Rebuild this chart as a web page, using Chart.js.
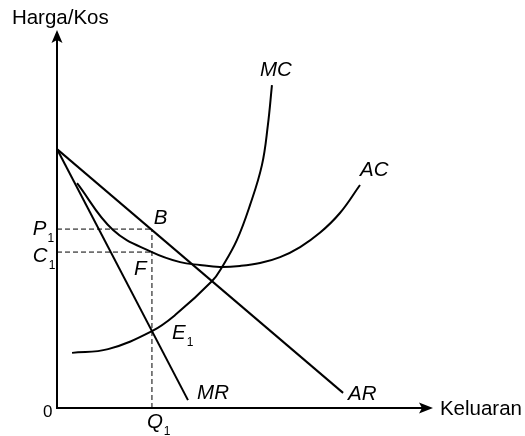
<!DOCTYPE html>
<html>
<head>
<meta charset="utf-8">
<script src="https://cdn.jsdelivr.net/npm/chart.js@4.4.1/dist/chart.umd.min.js"></script>
<style>
  body { margin: 0; background: #fff; }
  #wrap { width: 525px; height: 436px; }
</style>
</head>
<body>
<div id="wrap"><canvas id="monopoli" width="525" height="436"></canvas></div>
<script>
// lengkung kos dan hasil (unit keluaran / harga dibaca dari rajah)
const mcQ = [0.48, 1.63, 3.03, 3.77, 4.95, 5.27, 5.74, 6.16, 6.54, 6.73, 6.86];
const mcCost = [1.75, 1.87, 2.44, 2.95, 4.03, 4.48, 5.33, 6.44, 7.71, 8.98, 10.25];

const acQ = [0.64, 1.79, 3.03, 3.93, 4.56, 5.20, 5.84, 6.48, 7.12, 7.76, 8.39, 9.03, 9.67];
const acCost = [7.14, 5.65, 4.95, 4.63, 4.54, 4.48, 4.51, 4.60, 4.79, 5.11, 5.56, 6.19, 7.08];

const arQ = [0, 9.13];
const arPrice = [8.22, 0.48];

const mrQ = [0, 4.18];
const mrRevenue = [8.22, 0.25];

// keseimbangan
const q1 = 3.03;
const p1 = 5.68;
const c1 = 4.95;

const axisMax = 12;

function pts(xs, ys) {
    return xs.map((x, i) => ({ x: x, y: ys[i] }));
}

// teks pada rajah (kedudukan dalam unit paksi)
const teks = [
    { t: 'Harga/Kos', x: -1.44, y: 12.19, italic: false, size: 20.5 },
    { t: 'Keluaran', x: 12.22, y: -0.22, italic: false, size: 20.5 },
    { t: '0', x: -0.45, y: -0.29, italic: false, size: 17 },
    { t: 'MC', x: 6.48, y: 10.54, italic: true, size: 20.5 },
    { t: 'AC', x: 9.67, y: 7.37, italic: true, size: 20.5 },
    { t: 'B', x: 3.09, y: 5.84, italic: true, size: 20.5 },
    { t: 'F', x: 2.46, y: 4.22, italic: true, size: 20.5 },
    { t: 'E', sub: '1', x: 3.67, y: 2.19, italic: true, size: 20.5 },
    { t: 'MR', x: 4.47, y: 0.29, italic: true, size: 20.5 },
    { t: 'AR', x: 9.29, y: 0.25, italic: true, size: 20.5 },
    { t: 'P', sub: '1', x: -0.77, y: 5.49, italic: true, size: 20.5 },
    { t: 'C', sub: '1', x: -0.77, y: 4.62, italic: true, size: 20.5 },
    { t: 'Q', sub: '1', x: 2.87, y: -0.63, italic: true, size: 20.5 }
];

const garis = {
    borderColor: '#000',
    borderWidth: 2,
    pointRadius: 0,
    showLine: true,
    fill: false
};

const putus = {
    borderColor: '#000',
    borderWidth: 1,
    borderDash: [5, 3],
    pointRadius: 0,
    showLine: true,
    fill: false
};

// paksi dengan anak panah + label
const paksiPlugin = {
    id: 'paksi',
    afterDatasetsDraw(chart) {
        const ctx = chart.ctx;
        const sx = chart.scales.x, sy = chart.scales.y;
        const x0 = sx.getPixelForValue(0), y0 = sy.getPixelForValue(0);
        const xEnd = sx.getPixelForValue(axisMax), yEnd = sy.getPixelForValue(axisMax);
        ctx.save();
        ctx.strokeStyle = '#000';
        ctx.fillStyle = '#000';
        ctx.lineWidth = 2;
        ctx.beginPath();
        ctx.moveTo(x0, y0);
        ctx.lineTo(x0, yEnd + 6);
        ctx.moveTo(x0 - 1, y0);
        ctx.lineTo(xEnd - 6, y0);
        ctx.stroke();
        // anak panah atas
        ctx.beginPath();
        ctx.moveTo(x0, yEnd);
        ctx.lineTo(x0 + 5.5, yEnd + 13);
        ctx.lineTo(x0, yEnd + 10);
        ctx.lineTo(x0 - 5.5, yEnd + 13);
        ctx.closePath();
        ctx.fill();
        // anak panah kanan
        ctx.beginPath();
        ctx.moveTo(xEnd, y0);
        ctx.lineTo(xEnd - 14, y0 - 5.5);
        ctx.lineTo(xEnd - 11, y0);
        ctx.lineTo(xEnd - 14, y0 + 5.5);
        ctx.closePath();
        ctx.fill();

        ctx.textBaseline = 'alphabetic';
        ctx.textAlign = 'left';
        teks.forEach(l => {
            const px = sx.getPixelForValue(l.x), py = sy.getPixelForValue(l.y);
            ctx.font = (l.italic ? 'italic ' : '') + l.size + 'px "Liberation Sans", Arial, sans-serif';
            ctx.fillText(l.t, px, py);
            if (l.sub) {
                const w = ctx.measureText(l.t).width;
                ctx.font = '12px "Liberation Sans", Arial, sans-serif';
                ctx.fillText(l.sub, px + w + 1, py + 7);
            }
        });
        ctx.restore();
    }
};

const configMonopoli = {
    type: 'scatter',
    data: {
        datasets: [
            Object.assign({ label: 'AR', data: pts(arQ, arPrice) }, garis),
            Object.assign({ label: 'MR', data: pts(mrQ, mrRevenue) }, garis),
            Object.assign({ label: 'MC', data: pts(mcQ, mcCost), tension: 0.4 }, garis),
            Object.assign({ label: 'AC', data: pts(acQ, acCost), tension: 0.4 }, garis),
            Object.assign({ label: 'P1', data: pts([0, q1], [p1, p1]) }, putus),
            Object.assign({ label: 'C1', data: pts([0, q1], [c1, c1]) }, putus),
            Object.assign({ label: 'Q1', data: pts([q1, q1], [0, p1]) }, putus)
        ]
    },
    options: {
        responsive: false,
        animation: false,
        layout: {
            padding: { left: 57, right: 92, top: 30, bottom: 28 }
        },
        scales: {
            x: { type: 'linear', min: 0, max: axisMax, display: false },
            y: { type: 'linear', min: 0, max: axisMax, display: false }
        },
        plugins: {
            legend: { display: false },
            tooltip: { enabled: false }
        }
    },
    plugins: [paksiPlugin]
};

new Chart(document.getElementById('monopoli').getContext('2d'), configMonopoli);
</script>
</body>
</html>
